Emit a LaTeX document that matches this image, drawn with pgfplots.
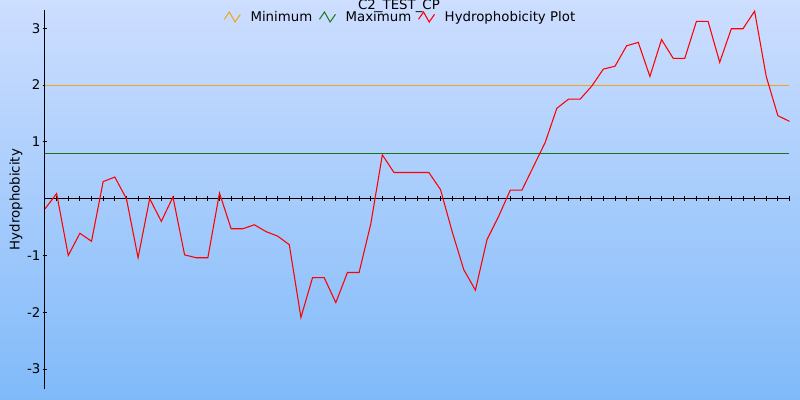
\documentclass[border=0pt]{standalone}
\usepackage{fontspec}
\setmainfont{DejaVu Sans}
\usepackage{pgfplots}
\pgfplotsset{compat=1.18}

\definecolor{bgtop}{RGB}{205,222,255}
\definecolor{bgbot}{RGB}{128,186,249}
\definecolor{minline}{RGB}{240,165,20}
\definecolor{maxline}{RGB}{20,120,20}

\begin{document}
\begin{tikzpicture}
    % background, 1px = 0.75pt
    \shade[top color=bgtop, bottom color=bgbot] (-33.75pt,-8.25pt) rectangle (566.25pt,291.75pt);
    \begin{axis}[
            at={(0,0)}, anchor=south west,
            scale only axis,
            width=558.375pt,
            height=284.25pt,
            xmin=0, xmax=64,
            ymin=-3.35, ymax=3.32,
            axis lines=middle,
            axis line style={-, black, line width=0.75pt},
            xtick={1,...,64},
            xticklabels={},
            ytick={-3,-2,-1,1,2,3},
            tick align=center,
            major tick length=3.4pt,
            tick style={black, line width=0.6pt},
            /pgf/number format/assume math mode=true,
            tick label style={font=\fontsize{10}{12}\selectfont},
            yticklabel style={anchor=east, inner sep=1.5pt},
            ylabel={Hydrophobicity},
            every axis y label/.style={at={(axis description cs:-0.039,0.5)}, rotate=90, anchor=center},
            label style={font=\fontsize{10}{12}\selectfont},
            legend style={draw=none, fill=none, legend columns=-1,
                    at={(axis description cs:0.478,0.9815)}, anchor=center,
                    font=\fontsize{10}{12}\selectfont,
                    /tikz/every odd column/.append style={column sep=5.25pt},
                    /tikz/every even column/.append style={column sep=3pt}},
            legend image code/.code={\draw[#1] (0pt,-1.7pt) -- (3.75pt,3.75pt) -- (8pt,-3.75pt) -- (12pt,2pt);},
            clip=false,
        ]
        \addplot[minline, line width=0.75pt] coordinates {(0,2) (64,2)};
        \addplot[maxline, line width=0.75pt] coordinates {(0,0.8) (64,0.8)};
        \addplot[red, line width=0.8pt] coordinates {
                (0,-0.18) (1,0.09) (2,-1.00) (3,-0.61) (4,-0.75) (5,0.30) (6,0.38) (7,0.00)
                (8,-1.04) (9,0.00) (10,-0.40) (11,0.03) (12,-0.99) (13,-1.04) (14,-1.04) (15,0.10)
                (16,-0.53) (17,-0.53) (18,-0.46) (19,-0.58) (20,-0.66) (21,-0.81) (22,-2.09) (23,-1.39)
                (24,-1.39) (25,-1.83) (26,-1.30) (27,-1.30) (28,-0.45) (29,0.77) (30,0.46) (31,0.46)
                (32,0.46) (33,0.46) (34,0.16) (35,-0.58) (36,-1.25) (37,-1.61) (38,-0.72) (39,-0.31)
                (40,0.15) (41,0.15) (42,0.57) (43,0.99) (44,1.59) (45,1.75) (46,1.75) (47,1.98)
                (48,2.28) (49,2.33) (50,2.69) (51,2.75) (52,2.15) (53,2.80) (54,2.47) (55,2.47)
                (56,3.12) (57,3.12) (58,2.40) (59,2.99) (60,2.99) (61,3.30) (62,2.15) (63,1.46)
                (64,1.36)};
        \legend{Minimum, Maximum, Hydrophobicity Plot}
        \node[anchor=base, font=\fontsize{10}{12}\selectfont, yshift=0.4pt] at (axis description cs:0.4755,1) {C2\_TEST\_CP};
    \end{axis}
    \pgfresetboundingbox
    \useasboundingbox (-33.75pt,-8.25pt) rectangle (566.25pt,291.75pt);
\end{tikzpicture}
\end{document}
